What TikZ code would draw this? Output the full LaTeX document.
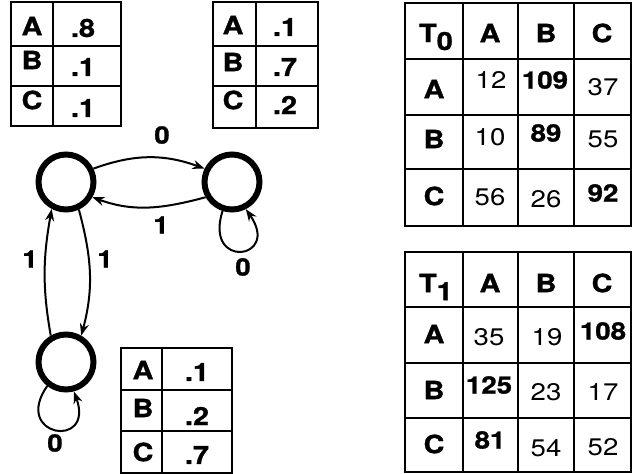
\documentclass[tikz,border=0pt]{standalone}
\usepackage{fontspec}
\setmainfont{TeX Gyre Heros}[FakeStretch=1.15,BoldFeatures={FakeBold=1.2}]
\usetikzlibrary{arrows.meta}
\begin{document}
\begin{tikzpicture}[x=1pt,y=1pt,
  state/.style={circle,draw,line width=6pt,minimum size=55pt,inner sep=0pt},
  edge/.style={line width=2pt,-{Stealth[length=12pt,width=9pt]}},
  grid/.style={line width=1.4pt},
  key/.style={font=\fontsize{25}{25}\selectfont\bfseries,inner sep=0pt},
  num/.style={font=\fontsize{24}{24}\selectfont,inner sep=0pt},
  bnum/.style={font=\fontsize{24}{24}\selectfont\bfseries,inner sep=0pt},
  elabel/.style={font=\fontsize{24}{24}\selectfont\bfseries,inner sep=0pt}]
\useasboundingbox (0,0) rectangle (632,-474);

% ---- output distribution of the first state ----
\draw[grid] (11,-2) rectangle (121,-126) (53,-2) -- (53,-126)
  (11,-46) -- (121,-46) (11,-86) -- (121,-86);
\node[key] (p1a) at (32,-26) {A};
\node[key] (p1av) at (83,-28) {.8};
\node[key] (p1b) at (32,-60) {B};
\node[key] (p1bv) at (83,-67) {.1};
\node[key] (p1c) at (32,-100) {C};
\node[key] (p1cv) at (83,-108) {.1};

% ---- output distribution of the second state ----
\draw[grid] (213,-2) rectangle (318,-128) (256,-2) -- (256,-128)
  (213,-46) -- (318,-46) (213,-86) -- (318,-86);
\node[key] (p2a) at (233,-25) {A};
\node[key] (p2av) at (285,-27) {.1};
\node[key] (p2b) at (233,-62) {B};
\node[key] (p2bv) at (285,-67) {.7};
\node[key] (p2c) at (233,-100) {C};
\node[key] (p2cv) at (285,-105) {.2};

% ---- output distribution of the third state ----
\draw[grid] (121,-348) rectangle (232,-473) (162,-348) -- (162,-473)
  (121,-390) -- (232,-390) (121,-431) -- (232,-431);
\node[key] (p3a) at (143,-370) {A};
\node[key] (p3av) at (197,-372) {.1};
\node[key] (p3b) at (143,-408) {B};
\node[key] (p3bv) at (197,-416) {.2};
\node[key] (p3c) at (143,-452) {C};
\node[key] (p3cv) at (197,-455) {.7};

% ---- count table T0 ----
\draw[grid] (405,-3) rectangle (631,-226)
  (463,-3) -- (463,-226) (518,-3) -- (518,-226) (574,-3) -- (574,-226)
  (405,-59) -- (631,-59) (405,-115) -- (631,-115) (405,-169) -- (631,-169);
\node[key] (t0) at (436,-37) {T\raisebox{-8pt}{0}};
\node[key] (t0ha) at (490,-33) {A};
\node[key] (t0hb) at (546,-33) {B};
\node[key] (t0hc) at (602,-33) {C};
\node[key] (t0ra) at (434,-89) {A};
\node[key] (t0rb) at (434,-139) {B};
\node[key] (t0rc) at (434,-196) {C};
\node[num]  (t0aa) at (491,-80) {12};
\node[bnum] (t0ab) at (545,-80) {109};
\node[num]  (t0ac) at (603,-87) {37};
\node[num]  (t0ba) at (490,-137) {10};
\node[bnum] (t0bb) at (546,-133) {89};
\node[num]  (t0bc) at (603,-139) {55};
\node[num]  (t0ca) at (490,-197) {56};
\node[num]  (t0cb) at (546,-199) {26};
\node[bnum] (t0cc) at (603,-193) {92};

% ---- count table T1 ----
\draw[grid] (405,-252) rectangle (631,-472)
  (463,-252) -- (463,-472) (518,-252) -- (518,-472) (574,-252) -- (574,-472)
  (405,-307) -- (631,-307) (405,-363) -- (631,-363) (405,-418) -- (631,-418);
\node[key] (t1) at (436,-287) {T\raisebox{-8pt}{1}};
\node[key] (t1ha) at (490,-283) {A};
\node[key] (t1hb) at (546,-283) {B};
\node[key] (t1hc) at (602,-283) {C};
\node[key] (t1ra) at (434,-334) {A};
\node[key] (t1rb) at (434,-390) {B};
\node[key] (t1rc) at (434,-444) {C};
\node[num]  (t1aa) at (489,-337) {35};
\node[num]  (t1ab) at (547,-337) {19};
\node[bnum] (t1ac) at (603,-331) {108};
\node[bnum] (t1ba) at (489,-385) {125};
\node[num]  (t1bb) at (546,-392) {23};
\node[num]  (t1bc) at (603,-392) {17};
\node[bnum] (t1ca) at (490,-440) {81};
\node[num]  (t1cb) at (546,-448) {54};
\node[num]  (t1cc) at (603,-447) {52};

% ---- state graph ----
\node[state] (s1) at (66,-182) {};
\node[state] (s2) at (232,-182) {};
\node[state] (s3) at (66,-362) {};

\draw[edge] (s1.26) to[out=20,in=160] (s2.154);
\draw[edge] (s2.210) to[out=195,in=-20] (s1.-30);
\draw[edge] (s2.252) .. controls +(252:62) and +(305:62) .. (s2.297);
\draw[edge] (s1.295) to[out=-75,in=75] (s3.60);
\draw[edge] (s3.120) to[out=100,in=260] (s1.242);
\draw[edge] (s3.232) .. controls +(235:62) and +(290:62) .. (s3.285);

\node[elabel] (l12) at (162,-135) {0};
\node[elabel] (l21) at (161,-225) {1};
\node[elabel] (l22) at (243,-267) {0};
\node[elabel] (l31) at (30,-259) {1};
\node[elabel] (l13) at (105,-259) {1};
\node[elabel] (l33) at (55,-443) {0};
\end{tikzpicture}
\end{document}
